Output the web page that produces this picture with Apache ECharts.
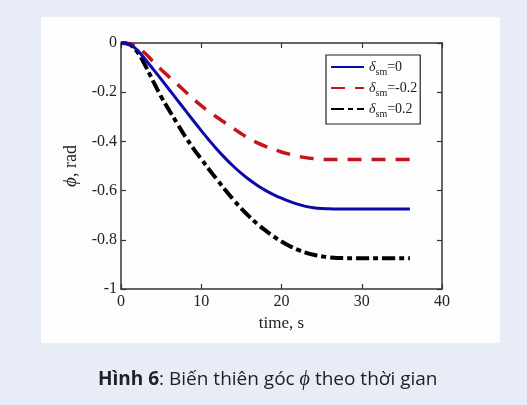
<!DOCTYPE html>
<html>
<head>
<meta charset="utf-8">
<script src="https://cdn.jsdelivr.net/npm/echarts@6/dist/echarts.min.js"></script>
<style>
  html, body { margin: 0; padding: 0; background: #e7ecf6; }
  #chart { width: 527px; height: 405px; }
</style>
</head>
<body>
<div id="chart"></div>
<script>
// time, s
const timeData = [0, 1, 2, 3, 4, 5, 6, 7, 8, 9, 10, 11, 12, 13, 14, 15, 16, 17, 18, 19, 20, 21, 22, 23, 24, 25, 26, 27, 30, 33, 36];
// phi, rad for delta_sm = 0
const phiZero = [0, -0.004, -0.028, -0.066, -0.106, -0.147, -0.189, -0.231, -0.273, -0.315, -0.356, -0.396, -0.434, -0.469, -0.501, -0.53, -0.556, -0.579, -0.599, -0.616, -0.631, -0.644, -0.655, -0.664, -0.67, -0.673, -0.674, -0.675, -0.675, -0.675, -0.675];
// delta_sm = -0.2
const phiNeg = [0, -0.002, -0.015, -0.042, -0.075, -0.108, -0.138, -0.167, -0.197, -0.227, -0.255, -0.28, -0.303, -0.325, -0.347, -0.369, -0.389, -0.406, -0.42, -0.432, -0.443, -0.452, -0.46, -0.466, -0.47, -0.473, -0.474, -0.474, -0.474, -0.474, -0.474];
// delta_sm = 0.2
const phiPos = [0, -0.005, -0.035, -0.09, -0.155, -0.218, -0.273, -0.327, -0.38, -0.428, -0.472, -0.515, -0.557, -0.598, -0.637, -0.673, -0.706, -0.736, -0.762, -0.786, -0.807, -0.825, -0.84, -0.852, -0.861, -0.867, -0.872, -0.874, -0.875, -0.875, -0.875];

const seriesNames = ['s0', 's1', 's2'];
const legendValues = ['=0', '=-0.2', '=0.2'];

const serif = "'Liberation Serif', 'DejaVu Serif', serif";
const sans = "'Open Sans', 'Noto Sans', sans-serif";

const pairs = (ys) => timeData.map((t, i) => [t, ys[i]]);

const chart = echarts.init(document.getElementById('chart'));

const axisLine = { show: true, onZero: false, lineStyle: { color: '#333', width: 1.5 } };
const axisTick = { show: true, inside: true, length: 5, lineStyle: { color: '#333', width: 1.2 } };

const option = {
  animation: false,
  backgroundColor: '#e7ecf6',
  textStyle: { fontFamily: serif },
  graphic: [
    {
      type: 'rect',
      z: -10,
      shape: { x: 41, y: 17, width: 459, height: 326 },
      style: { fill: '#fdfdfd' },
    },
    {
      type: 'text',
      left: 98,
      top: 370,
      style: {
        text: '{b|Hình 6}{n|: Biến thiên góc }{i|ϕ}{n| theo thời gian}',
        rich: {
          b: { fontFamily: sans, fontSize: 19, fontWeight: 'bold', fill: '#222' },
          n: { fontFamily: sans, fontSize: 19, fill: '#222' },
          i: { fontFamily: serif, fontSize: 20, fontStyle: 'italic', fill: '#222' },
        },
      },
    },
  ],
  grid: { left: 121, right: 85, top: 43, bottom: 116, containLabel: false },
  legend: {
    orient: 'vertical',
    left: 326,
    top: 55,
    padding: [5, 3, 5, 4],
    itemGap: 4,
    itemWidth: 33,
    itemHeight: 17,
    borderColor: '#222',
    borderWidth: 1.2,
    backgroundColor: '#fff',
    itemStyle: { opacity: 0 },
    data: seriesNames,
    formatter: (name) => '{d|δ}{s|sm}{v|' + legendValues[seriesNames.indexOf(name)] + '}',
    textStyle: {
      rich: {
        d: { fontFamily: serif, fontSize: 14, fontStyle: 'italic', color: '#222' },
        s: { fontFamily: serif, fontSize: 10, color: '#222', padding: [10, 0, 0, 0] },
        v: { fontFamily: serif, fontSize: 14, color: '#222' },
      },
    },
  },
  xAxis: [
    {
      type: 'value',
      min: 0,
      max: 40,
      interval: 10,
      name: 'time, s',
      nameLocation: 'middle',
      nameGap: 26,
      nameTextStyle: { fontFamily: serif, fontSize: 17, color: '#222' },
      axisLine,
      axisTick,
      axisLabel: { fontFamily: serif, fontSize: 16, color: '#222', margin: 5 },
      splitLine: { show: false },
    },
    {
      type: 'value',
      position: 'top',
      min: 0,
      max: 40,
      interval: 10,
      axisLine,
      axisTick,
      axisLabel: { show: false },
      splitLine: { show: false },
    },
  ],
  yAxis: [
    {
      type: 'value',
      min: -1,
      max: 0,
      interval: 0.2,
      name: '{i|ϕ}{n|, rad}',
      nameLocation: 'middle',
      nameGap: 20,
      nameRotate: 90,
      nameTextStyle: {
        rich: {
          i: { fontFamily: serif, fontSize: 19, fontStyle: 'italic', color: '#222' },
          n: { fontFamily: serif, fontSize: 18, color: '#222' },
        },
      },
      axisLine,
      axisTick,
      axisLabel: {
        fontFamily: serif,
        fontSize: 16,
        color: '#222',
        margin: 4,
        formatter: (v) => (v === 0 ? '0' : v === -1 ? '-1' : String(Math.round(v * 10) / 10)),
      },
      splitLine: { show: false },
    },
    {
      type: 'value',
      position: 'right',
      min: -1,
      max: 0,
      interval: 0.2,
      axisLine,
      axisTick,
      axisLabel: { show: false },
      splitLine: { show: false },
    },
  ],
  series: [
    {
      name: 's0',
      type: 'line',
      data: pairs(phiZero),
      smooth: 0.4,
      symbol: 'none',
      lineStyle: { color: '#0a0aa8', width: 3 },
      itemStyle: { color: '#0a0aa8' },
      z: 3,
    },
    {
      name: 's1',
      type: 'line',
      data: pairs(phiNeg),
      smooth: 0.4,
      symbol: 'none',
      lineStyle: { color: '#c3161c', width: 3.5, type: [14, 10] },
      itemStyle: { color: '#c3161c' },
      z: 2,
    },
    {
      name: 's2',
      type: 'line',
      data: pairs(phiPos),
      smooth: 0.4,
      symbol: 'none',
      lineStyle: { color: '#000', width: 4, type: [13, 4, 5, 4] },
      itemStyle: { color: '#000' },
      z: 1,
    },
  ],
};

chart.setOption(option);
</script>
</body>
</html>
